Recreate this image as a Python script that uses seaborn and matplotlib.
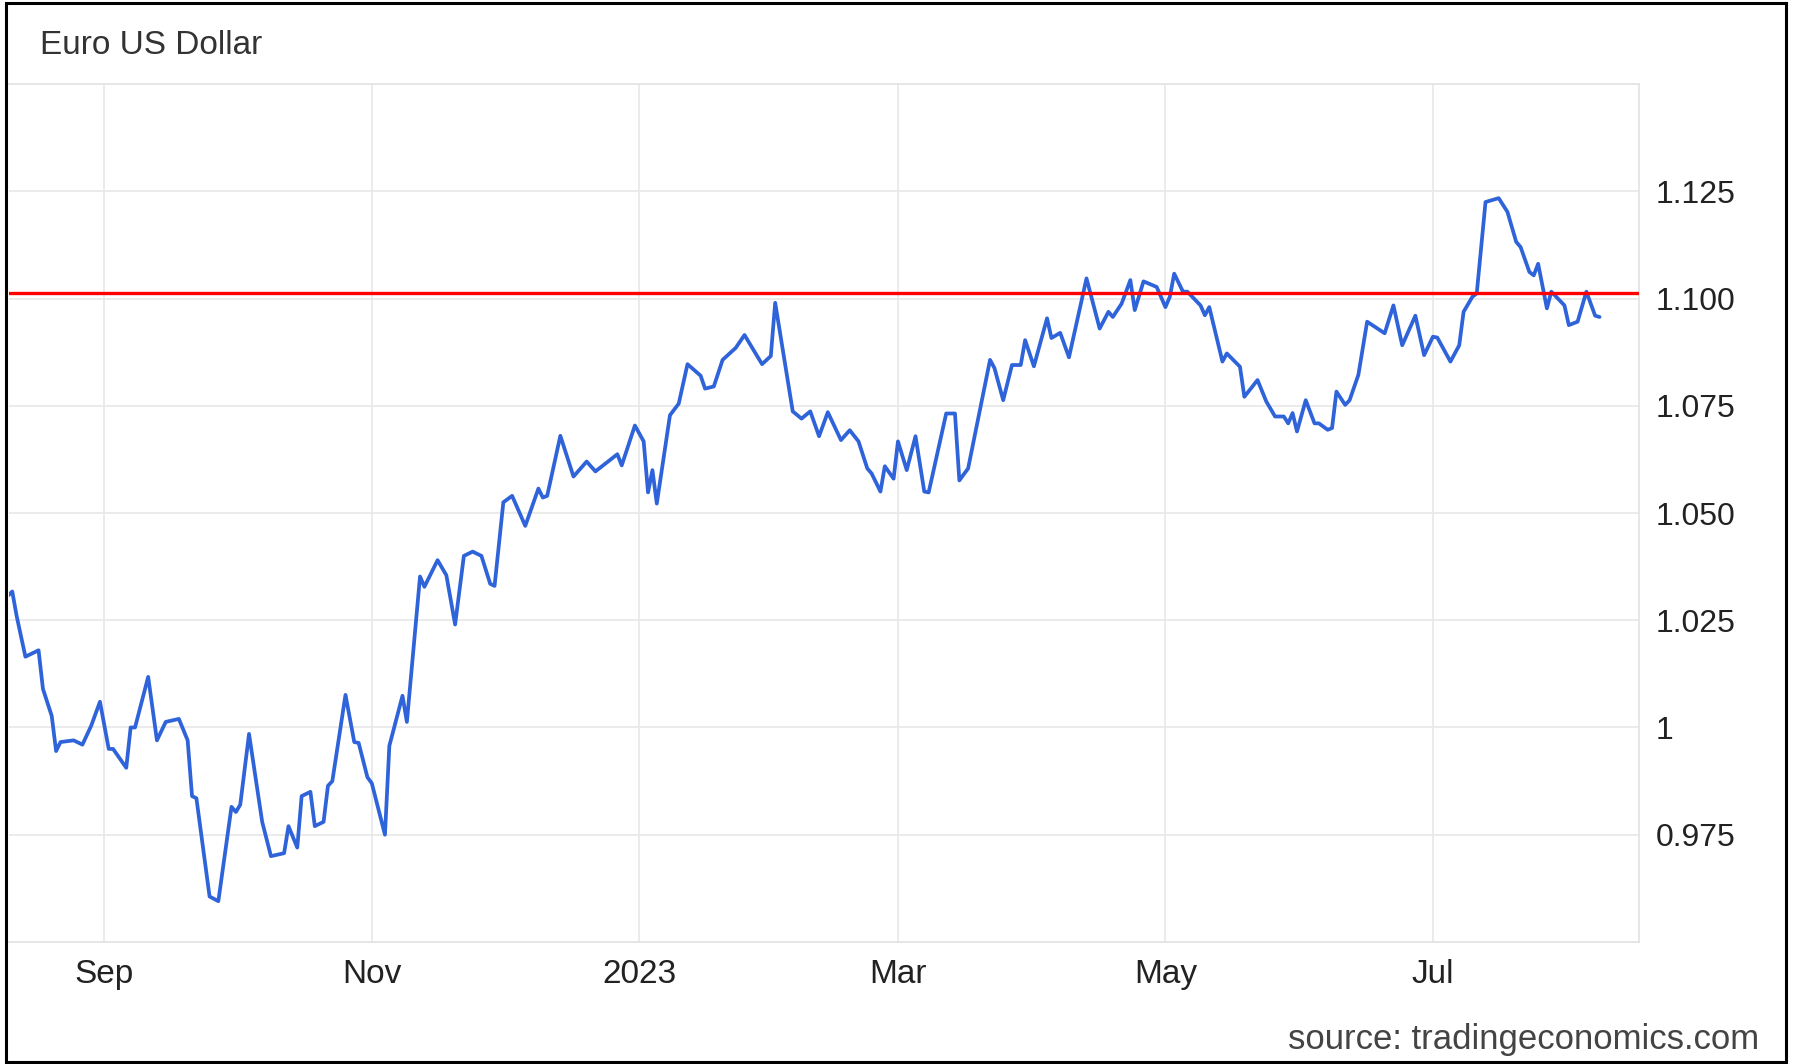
import pandas as pd
import seaborn as sns
import matplotlib.pyplot as plt
import matplotlib.patches as patches

# EUR/USD daily rate
dates = [
    "2022-08-10", "2022-08-11", "2022-08-12", "2022-08-14", "2022-08-17", "2022-08-18",
    "2022-08-20", "2022-08-21", "2022-08-22", "2022-08-25", "2022-08-27", "2022-08-29",
    "2022-08-31", "2022-09-02", "2022-09-03", "2022-09-06", "2022-09-07", "2022-09-08",
    "2022-09-11", "2022-09-13", "2022-09-15", "2022-09-18", "2022-09-20", "2022-09-21",
    "2022-09-22", "2022-09-25", "2022-09-27", "2022-09-30", "2022-10-01", "2022-10-02",
    "2022-10-04", "2022-10-07", "2022-10-09", "2022-10-12", "2022-10-13", "2022-10-15",
    "2022-10-16", "2022-10-18", "2022-10-19", "2022-10-21", "2022-10-22", "2022-10-23",
    "2022-10-26", "2022-10-28", "2022-10-29", "2022-10-31", "2022-11-01", "2022-11-04",
    "2022-11-05", "2022-11-08", "2022-11-09", "2022-11-12", "2022-11-13", "2022-11-16",
    "2022-11-18", "2022-11-20", "2022-11-22", "2022-11-24", "2022-11-26", "2022-11-28",
    "2022-11-29", "2022-12-01", "2022-12-03", "2022-12-06", "2022-12-09", "2022-12-10",
    "2022-12-11", "2022-12-14", "2022-12-17", "2022-12-20", "2022-12-22", "2022-12-27",
    "2022-12-28", "2022-12-31", "2023-01-02", "2023-01-03", "2023-01-04", "2023-01-05",
    "2023-01-08", "2023-01-10", "2023-01-12", "2023-01-15", "2023-01-16", "2023-01-18",
    "2023-01-20", "2023-01-23", "2023-01-25", "2023-01-29", "2023-01-31", "2023-02-01",
    "2023-02-05", "2023-02-07", "2023-02-09", "2023-02-11", "2023-02-13", "2023-02-16",
    "2023-02-18", "2023-02-20", "2023-02-22", "2023-02-23", "2023-02-25", "2023-02-26",
    "2023-02-28", "2023-03-01", "2023-03-03", "2023-03-05", "2023-03-07", "2023-03-08",
    "2023-03-12", "2023-03-14", "2023-03-15", "2023-03-17", "2023-03-22", "2023-03-23",
    "2023-03-25", "2023-03-27", "2023-03-29", "2023-03-30", "2023-04-01", "2023-04-04",
    "2023-04-05", "2023-04-07", "2023-04-09", "2023-04-13", "2023-04-16", "2023-04-18",
    "2023-04-19", "2023-04-21", "2023-04-23", "2023-04-24", "2023-04-26", "2023-04-29",
    "2023-05-01", "2023-05-02", "2023-05-03", "2023-05-05", "2023-05-06", "2023-05-09",
    "2023-05-10", "2023-05-11", "2023-05-14", "2023-05-15", "2023-05-18", "2023-05-19",
    "2023-05-22", "2023-05-24", "2023-05-26", "2023-05-28", "2023-05-29", "2023-05-30",
    "2023-05-31", "2023-06-02", "2023-06-04", "2023-06-05", "2023-06-07", "2023-06-08",
    "2023-06-09", "2023-06-11", "2023-06-12", "2023-06-14", "2023-06-16", "2023-06-20",
    "2023-06-22", "2023-06-24", "2023-06-27", "2023-06-29", "2023-07-01", "2023-07-02",
    "2023-07-05", "2023-07-07", "2023-07-08", "2023-07-10", "2023-07-11", "2023-07-13",
    "2023-07-16", "2023-07-18", "2023-07-20", "2023-07-21", "2023-07-23", "2023-07-24",
    "2023-07-25", "2023-07-27", "2023-07-28", "2023-07-31", "2023-08-01", "2023-08-03",
    "2023-08-05", "2023-08-07", "2023-08-08",
]
rates = [
    1.0307, 1.0317, 1.0260, 1.0165, 1.0180, 1.0090,
    1.0027, 0.9945, 0.9966, 0.9970, 0.9960, 1.0004,
    1.0060, 0.9950, 0.9950, 0.9906, 1.0000, 1.0000,
    1.0118, 0.9970, 1.0013, 1.0020, 0.9970, 0.9840,
    0.9835, 0.9606, 0.9595, 0.9815, 0.9803, 0.9820,
    0.9985, 0.9780, 0.9700, 0.9707, 0.9770, 0.9720,
    0.9840, 0.9850, 0.9770, 0.9780, 0.9864, 0.9875,
    1.0076, 0.9966, 0.9964, 0.9884, 0.9870, 0.9750,
    0.9957, 1.0074, 1.0013, 1.0352, 1.0328, 1.0390,
    1.0355, 1.0240, 1.0400, 1.0410, 1.0400, 1.0335,
    1.0330, 1.0525, 1.0540, 1.0470, 1.0557, 1.0536,
    1.0540, 1.0680, 1.0585, 1.0620, 1.0597, 1.0637,
    1.0611, 1.0704, 1.0667, 1.0548, 1.0600, 1.0522,
    1.0728, 1.0755, 1.0847, 1.0820, 1.0790, 1.0795,
    1.0857, 1.0885, 1.0915, 1.0847, 1.0866, 1.0990,
    1.0737, 1.0720, 1.0737, 1.0679, 1.0735, 1.0670,
    1.0693, 1.0667, 1.0604, 1.0592, 1.0550, 1.0609,
    1.0580, 1.0667, 1.0600, 1.0679, 1.0550, 1.0548,
    1.0732, 1.0732, 1.0576, 1.0604, 1.0857, 1.0838,
    1.0763, 1.0845, 1.0845, 1.0903, 1.0842, 1.0954,
    1.0908, 1.0920, 1.0863, 1.1047, 1.0930, 1.0969,
    1.0957, 1.0988, 1.1043, 1.0973, 1.1040, 1.1027,
    1.0980, 1.1004, 1.1058, 1.1016, 1.1016, 1.0984,
    1.0961, 1.0980, 1.0853, 1.0872, 1.0841, 1.0771,
    1.0810, 1.0760, 1.0725, 1.0725, 1.0709, 1.0733,
    1.0690, 1.0763, 1.0709, 1.0709, 1.0694, 1.0698,
    1.0783, 1.0752, 1.0763, 1.0822, 1.0946, 1.0919,
    1.0984, 1.0891, 1.0960, 1.0868, 1.0911, 1.0909,
    1.0853, 1.0891, 1.0969, 1.1004, 1.1012, 1.1225,
    1.1234, 1.1202, 1.1132, 1.1120, 1.1062, 1.1054,
    1.1081, 1.0977, 1.1016, 1.0984, 1.0938, 1.0946,
    1.1016, 1.0960, 1.0957,
]
ref_level = 1.1013

tick_dates = ["2022-09-01", "2022-11-01", "2023-01-01", "2023-03-01", "2023-05-01", "2023-07-01"]
tick_labels = ["Sep", "Nov", "2023", "Mar", "May", "Jul"]
y_ticks = [0.975, 1.0, 1.025, 1.05, 1.075, 1.1, 1.125]
y_tick_labels = ["0.975", "1", "1.025", "1.050", "1.075", "1.100", "1.125"]

df = pd.DataFrame({"date": pd.to_datetime(dates), "rate": rates})

sns.set_style("white")
plt.rcParams["font.family"] = ["Liberation Sans", "DejaVu Sans"]

fig = plt.figure(figsize=(17.93, 10.64), dpi=100)
ax = fig.add_axes([0.005, 0.1147, 0.9091, 0.8063])

sns.lineplot(data=df, x="date", y="rate", ax=ax, color="#2f63d9", linewidth=2.7, zorder=2)
ax.axhline(ref_level, color="#ff0000", linewidth=2.4, zorder=3)

ax.set_xlim(pd.Timestamp("2022-08-10 06:00"), pd.Timestamp("2023-08-17"))
ax.set_ylim(0.95, 1.15)
ax.set_xticks(pd.to_datetime(tick_dates))
ax.set_xticklabels(tick_labels)
ax.set_yticks(y_ticks)
ax.set_yticklabels(y_tick_labels)
ax.yaxis.tick_right()
ax.set_xlabel("")
ax.set_ylabel("")

ax.grid(True, color="#e8e8e8", linewidth=1.2)
ax.set_axisbelow(True)
for side in ["top", "bottom", "right"]:
    ax.spines[side].set_color("#e2e2e2")
    ax.spines[side].set_linewidth(1.2)
ax.spines["left"].set_visible(False)

ax.tick_params(axis="y", length=0, pad=12, labelsize=23, labelcolor="#222222")
ax.tick_params(axis="x", length=0, pad=12, labelsize=24, labelcolor="#222222")

fig.text(40 / 1793, 1 - 46 / 1064, "Euro US Dollar", fontsize=24, color="#333333", va="center", ha="left")
fig.text(1759 / 1793, 1 - 1040 / 1064, "source: tradingeconomics.com", fontsize=25,
         color="#444444", va="center", ha="right")

# black frame around the whole picture
fig.patches.append(patches.Rectangle((6 / 1793, 2 / 1064), 1780 / 1793, 1059 / 1064,
                                     transform=fig.transFigure, fill=False,
                                     edgecolor="black", linewidth=2.2))

fig.savefig("out.png", dpi=100)
plt.close(fig)
